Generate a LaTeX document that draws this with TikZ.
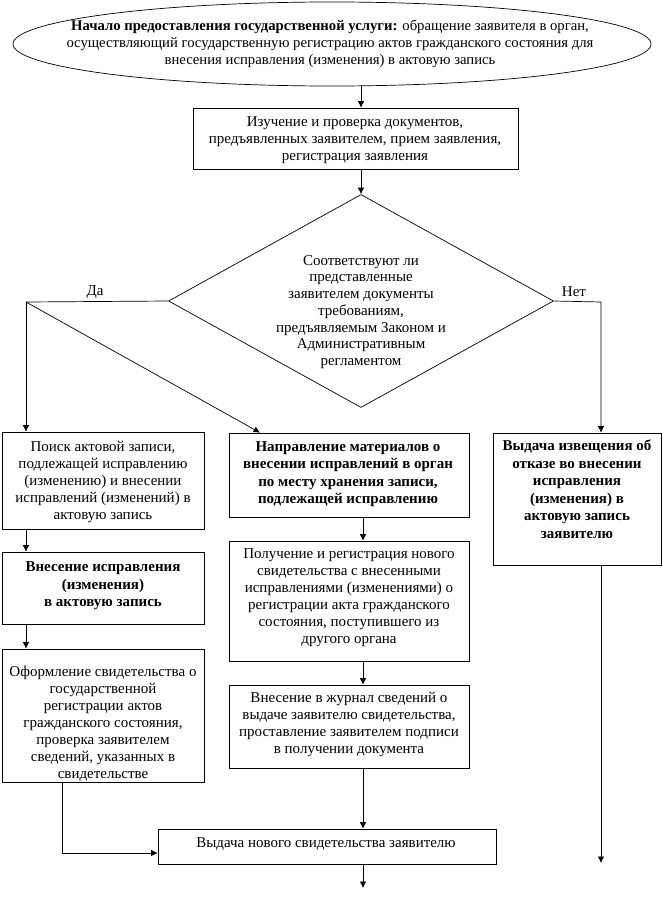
\documentclass[tikz,border=0pt]{standalone}
\usepackage{fontspec}
\setmainfont{Liberation Serif}
\usetikzlibrary{shapes.geometric,arrows.meta,calc}
\begin{document}
\begin{tikzpicture}[x=1pt,y=-1pt,
  bx/.style={draw,rectangle,inner sep=0pt,line width=0.7pt},
  tx/.style={align=center,inner sep=0pt,font=\fontsize{15}{17}\selectfont},
  tb/.style={tx,font=\fontsize{15}{17.5}\selectfont\bfseries},
  arr/.style={line width=0.7pt,-{Latex[length=6.5pt,width=6.5pt]}},
  ln/.style={line width=0.7pt}]
\useasboundingbox (0,0) rectangle (662,902);
\fill[white] (0,0) rectangle (662,902);

% shapes
\node[draw,ellipse,line width=0.7pt,minimum width=638pt,minimum height=84pt,inner sep=0pt] (start) at (332,44) {};
\node[bx,minimum width=325pt,minimum height=61pt] (izuch) at (355.5,138.5) {};
\node[draw,diamond,line width=0.7pt,minimum width=385pt,minimum height=213pt,inner sep=0pt] (dec) at (361,301) {};
\node[bx,minimum width=202pt,minimum height=97pt] (poisk) at (103,480.5) {};
\node[bx,minimum width=202pt,minimum height=72pt] (vnes) at (103,588) {};
\node[bx,minimum width=202pt,minimum height=133pt] (oform) at (103,715.5) {};
\node[bx,minimum width=240pt,minimum height=84pt] (napr) at (349,475) {};
\node[bx,minimum width=240pt,minimum height=120pt] (poluch) at (349,601) {};
\node[bx,minimum width=240pt,minimum height=83pt] (zhur) at (349,726.5) {};
\node[bx,minimum width=168pt,minimum height=132pt] (izv) at (577,499) {};
\node[bx,minimum width=338pt,minimum height=35pt] (fin) at (327,846.5) {};

% texts
\node[tx,font=\fontsize{14.7}{17}\selectfont] (tstart) at (330,44) {\textbf{Начало предоставления государственной услуги:} обращение заявителя в орган,\\ осуществляющий государственную регистрацию актов гражданского состояния для\\ внесения исправления (изменения) в актовую запись};
\node[tx] (tizuch) at (355,140) {Изучение и проверка документов,\\ предъявленных заявителем, прием заявления,\\ регистрация заявления};
\node[tx,font=\fontsize{15}{16.7}\selectfont] (tdec) at (361,312) {Соответствуют ли\\ представленные\\ заявителем документы\\ требованиям,\\ предъявляемым Законом и\\ Административным\\ регламентом};
\node[tx] (tpoisk) at (103,482) {Поиск актовой записи,\\ подлежащей исправлению\\ (изменению) и внесении\\ исправлений (изменений) в\\ актовую запись};
\node[tb] (tvnes) at (103,586) {Внесение исправления\\ (изменения)\\ в актовую запись};
\node[tx] (toform) at (103,724) {Оформление свидетельства о\\ государственной\\ регистрации актов\\ гражданского состояния,\\ проверка заявителем\\ сведений, указанных в\\ свидетельстве};
\node[tb] (tnapr) at (348,474) {Направление материалов о\\ внесении исправлений в орган\\ по месту хранения записи,\\ подлежащей исправлению};
\node[tx] (tpoluch) at (349,598) {Получение и регистрация нового\\ свидетельства с внесенными\\ исправлениями (изменениями) о\\ регистрации акта гражданского\\ состояния, поступившего из\\ другого органа};
\node[tx] (tzhur) at (349,724) {Внесение в журнал сведений о\\ выдаче заявителю свидетельства,\\ проставление заявителем подписи\\ в получении документа};
\node[tb] (tizv) at (577,489) {Выдача извещения об\\ отказе во внесении\\ исправления\\ (изменения) в\\ актовую запись\\ заявителю};
\node[tx] (tfin) at (326,844) {Выдача нового свидетельства заявителю};

% labels
\node[tx] (lda) at (95,292) {Да};
\node[tx] (lnet) at (574,292) {Нет};

% coordinates
\coordinate (jL) at (26,302);
\coordinate (jM) at (363,0);
\coordinate (jR) at (601,302);
\coordinate (jD) at (260,0);
\coordinate (jF) at (62,853);
\coordinate (endR) at (601,863);
\coordinate (endB) at (363,888);

% connectors
\draw[arr] (start.south -| dec.north) -- (izuch.north -| dec.north);
\draw[arr] (izuch.south -| dec.north) -- (dec.north);
\draw[ln] (dec.west) -- (jL);
\draw[arr] (jL) -- (poisk.north -| jL);
\draw[arr] (jL) -- (napr.north -| jD);
\draw[arr] (dec.east) -- (jR) -- (izv.north -| jR);
\draw[arr] (izv.south -| jR) -- (endR);
\draw[arr] (poisk.south -| jL) -- (vnes.north -| jL);
\draw[arr] (vnes.south -| jL) -- (oform.north -| jL);
\draw[arr] (oform.south -| jF) -- (jF) -- (fin.west |- jF);
\draw[arr] (napr.south -| jM) -- (poluch.north -| jM);
\draw[arr] (poluch.south -| jM) -- (zhur.north -| jM);
\draw[arr] (zhur.south -| jM) -- (fin.north -| jM);
\draw[arr] (fin.south -| jM) -- (endB);
\end{tikzpicture}
\end{document}
